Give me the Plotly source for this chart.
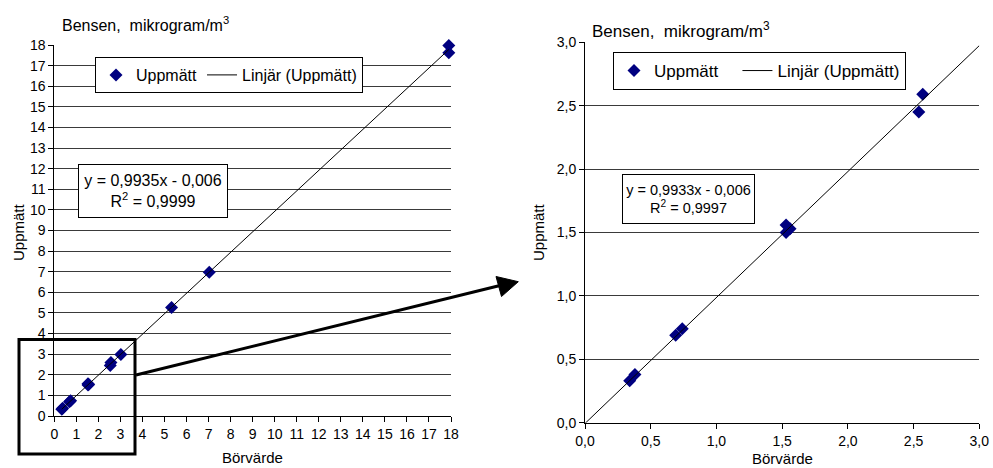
import plotly.graph_objects as go

W, H = 993, 468

# ---- data ----
left_x = [0.34, 0.38, 0.69, 0.74, 1.53, 1.53, 1.56, 2.54, 2.57, 3.02, 5.32, 7.03, 17.9, 17.9]
left_y = [0.33, 0.38, 0.69, 0.74, 1.50, 1.56, 1.53, 2.45, 2.59, 2.98, 5.27, 6.97, 17.62, 17.97]
right_x = [0.34, 0.38, 0.69, 0.74, 1.53, 1.53, 1.56, 2.54, 2.57]
right_y = [0.33, 0.38, 0.69, 0.74, 1.50, 1.56, 1.53, 2.45, 2.59]
left_coef = (0.9935, -0.006)
right_coef = (0.9933, -0.006)
left_eq = "y = 0,9935x - 0,006<br>R<sup>2</sup> = 0,9999"
right_eq = "y = 0,9933x - 0,006<br>R<sup>2</sup> = 0,9997"
left_trend_x = [min(left_x), max(left_x)]
right_trend_x = [0.0, 3.0]
title_text = "Bensen,\u00a0 mikrogram/m<sup>3</sup>"
x_title = "Börvärde"
y_title = "Uppmätt"
series_name = "Uppmätt"
trend_name = "Linjär (Uppmätt)"

NAVY = "#000080"
GRID = "#3a3a3a"
FONT = "Liberation Sans, Arial, sans-serif"


def px(x):
    return x / W


def py(y):
    return 1 - y / H


fig = go.Figure()

# left chart
fig.add_trace(go.Scatter(x=left_x, y=left_y, mode="markers", name=series_name,
                         marker=dict(symbol="diamond", size=10, color=NAVY), cliponaxis=False,
                         xaxis="x", yaxis="y", legend="legend"))
fig.add_trace(go.Scatter(x=left_trend_x, y=[left_coef[0] * v + left_coef[1] for v in left_trend_x],
                         mode="lines", name=trend_name, line=dict(color="black", width=1),
                         xaxis="x", yaxis="y", legend="legend"))
# right chart
fig.add_trace(go.Scatter(x=right_x, y=right_y, mode="markers", name=series_name + "\u00a0\u00a0\u00a0",
                         marker=dict(symbol="diamond", size=10, color=NAVY), cliponaxis=False,
                         xaxis="x2", yaxis="y2", legend="legend2"))
fig.add_trace(go.Scatter(x=right_trend_x, y=[right_coef[0] * v + right_coef[1] for v in right_trend_x],
                         mode="lines", name=trend_name, line=dict(color="black", width=1),
                         xaxis="x2", yaxis="y2", legend="legend2"))

axis_common = dict(showline=True, linecolor="black", linewidth=1, ticks="outside",
                   ticklen=5, tickcolor="black", zeroline=False, automargin=False,
                   tickfont=dict(size=14, color="black", family=FONT))

fig.update_layout(
    width=W, height=H,
    margin=dict(l=0, r=0, t=0, b=0, autoexpand=False),
    paper_bgcolor="white", plot_bgcolor="white",
    separators=", ",
    font=dict(family=FONT, color="black"),
    showlegend=True,
    xaxis=dict(domain=[px(54.3), px(451)], range=[0, 18], dtick=1, showgrid=False,
               anchor="y", **axis_common),
    yaxis=dict(domain=[py(416), py(45)], range=[0, 18], dtick=1, showgrid=True,
               gridcolor=GRID, gridwidth=1, anchor="x", **axis_common),
    xaxis2=dict(domain=[px(585), px(979.3)], range=[0, 3], dtick=0.5, tickformat=".1f",
                showgrid=False, anchor="y2", **axis_common),
    yaxis2=dict(domain=[py(422.7), py(42.3)], range=[0, 3], dtick=0.5, tickformat=".1f",
                showgrid=True, gridcolor=GRID, gridwidth=1, anchor="x2", **axis_common),
    legend=dict(orientation="h", x=px(95), y=py(57), xanchor="left", yanchor="top",
                bgcolor="white", bordercolor="black", borderwidth=1,
                font=dict(size=16, family=FONT), itemwidth=30),
    legend2=dict(orientation="h", x=px(613), y=py(52), xanchor="left", yanchor="top",
                 bgcolor="white", bordercolor="black", borderwidth=1,
                 font=dict(size=17, family=FONT), itemwidth=30),
)

annotations = [
    dict(text=title_text, x=px(60), y=py(24), xanchor="left", yanchor="middle",
         font=dict(size=16)),
    dict(text=title_text, x=px(590), y=py(30), xanchor="left", yanchor="middle",
         font=dict(size=17)),
    dict(text=left_eq, x=px(152.5), y=py(190.5), xanchor="center", yanchor="middle",
         font=dict(size=16), bordercolor="black", borderwidth=1, bgcolor="white",
         borderpad=2, width=144, height=48),
    dict(text=right_eq, x=px(688), y=py(198.5), xanchor="center", yanchor="middle",
         font=dict(size=14.5), bordercolor="black", borderwidth=1, bgcolor="white",
         borderpad=2, width=127, height=44),
    dict(text=x_title, x=px(252.5), y=py(457), xanchor="center", yanchor="middle",
         font=dict(size=15)),
    dict(text=x_title, x=px(782), y=py(458.5), xanchor="center", yanchor="middle",
         font=dict(size=15)),
    dict(text=y_title, x=px(18), y=py(232), xanchor="center", yanchor="middle",
         textangle=-90, font=dict(size=15)),
    dict(text=y_title, x=px(538), y=py(232), xanchor="center", yanchor="middle",
         textangle=-90, font=dict(size=15)),
]
for a in annotations:
    a.update(xref="paper", yref="paper", showarrow=False)
fig.update_layout(annotations=annotations)

# zoom box and arrow (decorations, in paper coordinates)
shapes = [
    dict(type="rect", xref="paper", yref="paper", x0=px(19), x1=px(135), y0=py(454), y1=py(339.5),
         line=dict(color="black", width=3), fillcolor="rgba(0,0,0,0)"),
    dict(type="line", xref="paper", yref="paper", x0=px(136), y0=py(375), x1=px(500), y1=py(285.5),
         line=dict(color="black", width=3)),
    dict(type="path", xref="paper", yref="paper",
         path=f"M {px(518.3)} {py(281.7)} L {px(501.5)} {py(296.5)} L {px(496)} {py(276.5)} Z",
         fillcolor="black", line=dict(color="black", width=1)),
]
fig.update_layout(shapes=shapes)

fig.write_html("out.html")
